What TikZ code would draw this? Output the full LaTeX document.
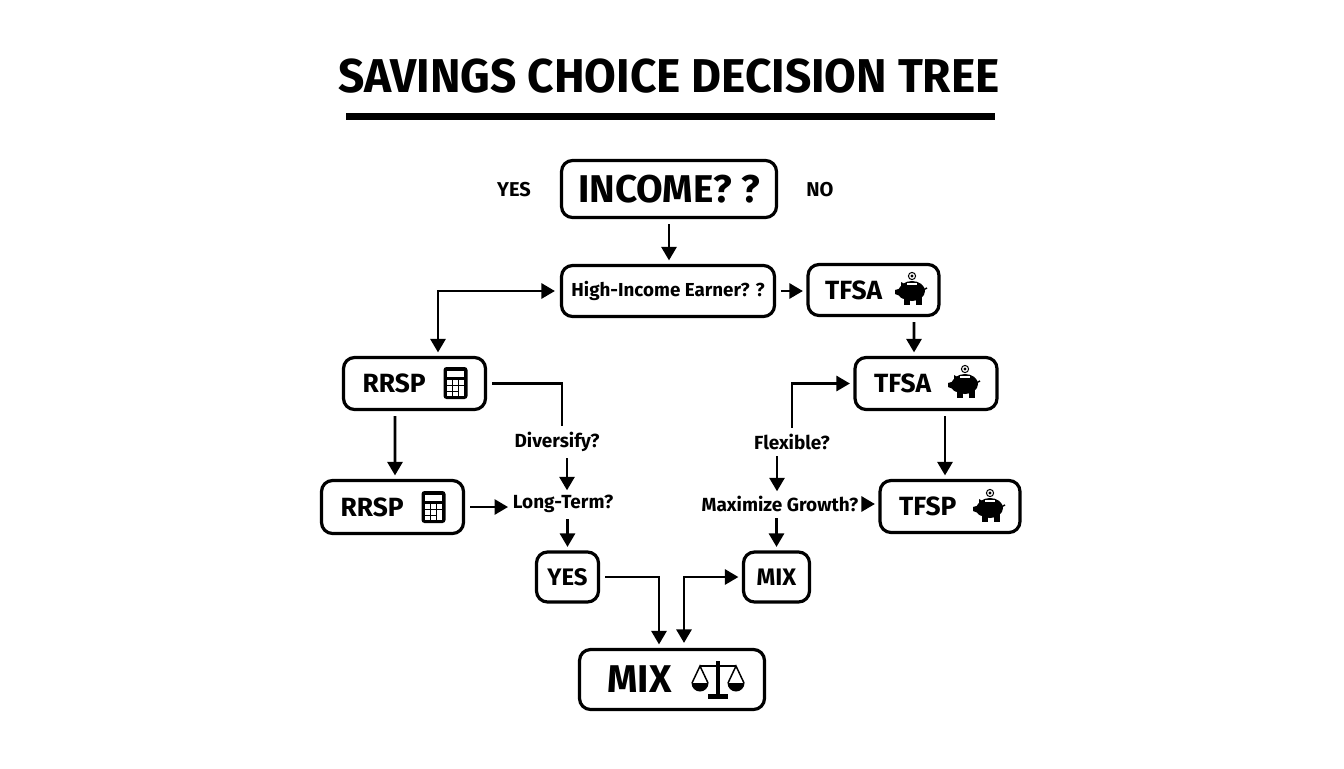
\documentclass[tikz,border=0pt]{standalone}
\usepackage{fontspec}
\setmainfont{Fira Sans}
\usetikzlibrary{arrows.meta,positioning}

\tikzset{
	box/.style={draw=black, fill=white, line width=0.064cm, rounded corners=0.22cm, inner sep=0pt, font=\bfseries\fontsize{15}{15}\selectfont, align=center},
	iconbox/.style={box, inner xsep=0.38cm, align=flush left},
	ask/.style={inner sep=0.02cm, font=\bfseries\fontsize{10.8}{12}\selectfont},
	arr/.style={->, >={Triangle[length=0.27cm,width=0.3cm]}, line width=0.056cm, shorten <=0.1cm, shorten >=0.07cm},
	arrb/.style={arr, <->},
	wire/.style={line width=0.056cm, shorten <=0.1cm, shorten >=0.1cm},
	pig/.pic={
		\fill (0,0) ellipse (13 and 10);
		\fill (-7,1) circle (7);
		\fill (-10,-3) -- (-17,-1) -- (-17,3) -- (-9,6) -- cycle;
		\fill (-11,-9) -- (-11,-2) -- (-4,-5) -- cycle;
		\fill (-8,4) rectangle (-2,14);
		\fill (4,4) rectangle (10,14);
		\draw[line width=0.03cm] (11,-1) -- (15,-3);
		\draw[white, line width=0.03cm] (-5,-7) -- (5,-7);
		\draw[line width=0.02cm] (0,-15) circle (3.6);
		\fill (0,-15) circle (1.6);
	},
	calc/.pic={
		\fill[rounded corners=0.06cm] (-12,-16) rectangle (12,16);
		\fill[white] (-8.5,-12.5) rectangle (8.5,-6);
		\foreach \i in {-8.5,-2.5} {
			\fill[white] (\i,-3) rectangle (\i+5,1.5);
			\fill[white] (\i,3) rectangle (\i+5,7.5);
			\fill[white] (\i,9) rectangle (\i+5,12.5);
		}
		\fill[white] (3.5,-3) rectangle (8.5,1.5);
		\fill[white] (3.5,3) rectangle (8.5,12.5);
	},
	scales/.pic={
		\draw[line width=0.07cm] (0,-19) -- (0,15);
		\draw[line width=0.05cm] (-18,-14) -- (18,-14);
		\draw[line width=0.1cm] (-10,16) -- (10,16);
		\foreach \i in {-18,18} {
			\draw[line width=0.03cm] (\i-8,3) -- (\i,-14) -- (\i+8,3);
			\fill (\i-8.5,3) arc (180:0:8.5) -- cycle;
		}
	}
}

\begin{document}
\begin{tikzpicture}[x=0.02cm, y=-0.02cm]
	\useasboundingbox (0,0) rectangle (1344,768);
	
	\node[font=\bfseries\fontsize{27}{27}\selectfont\addfontfeature{FakeStretch=0.97}] (title) at (669,76) {SAVINGS CHOICE DECISION TREE};
	\fill (346,113) rectangle (995,120);
	
	% top row
	\node[box, minimum width=4.3cm, minimum height=1.14cm, font=\bfseries\fontsize{22}{22}\selectfont] (income) at (669,189) {INCOME? ?};
	\node[ask, font=\bfseries\fontsize{11.4}{12}\selectfont] (yeslabel) at (514,190) {YES};
	\node[ask, font=\bfseries\fontsize{11.4}{12}\selectfont] (nolabel) at (820,190) {NO};
	\node[box, minimum width=4.26cm, minimum height=1.02cm, font=\bfseries\fontsize{10.7}{12}\selectfont] (high) at (668,291) {High-Income Earner? ?};
	\node[iconbox, minimum height=1.02cm, inner xsep=0.34cm, text width=1.94cm] (tfsaa) at (873.5,290) {TFSA};
	
	% left and right columns
	\node[iconbox, minimum height=1.04cm, text width=2.08cm] (rrspa) at (414.5,383.5) {RRSP};
	\node[iconbox, minimum height=1.04cm, text width=2.08cm] (tfsab) at (926,383.5) {TFSA};
	\node[iconbox, minimum height=1.06cm, text width=2.08cm] (rrspb) at (392.5,507) {RRSP};
	\node[iconbox, minimum height=1.04cm, text width=2.04cm] (tfsp) at (950,506.5) {TFSP};
	
	% questions
	\node[ask] (diversify) at (557,442) {Diversify?};
	\node[ask] (flexible) at (792,442) {Flexible?};
	\node[ask] (longterm) at (563,504) {Long-Term?};
	\node[ask] (growth) at (780,504) {Maximize Growth?};
	
	% bottom
	\node[box, minimum width=1.24cm, minimum height=1.0cm, font=\bfseries\fontsize{13.6}{14}\selectfont] (yesbox) at (567.5,577) {YES};
	\node[box, minimum width=1.32cm, minimum height=1.0cm, font=\bfseries\fontsize{13.6}{14}\selectfont] (mixs) at (776.5,577) {MIX};
	\node[box, minimum width=3.7cm, minimum height=1.2cm, inner xsep=0.56cm, text width=2.58cm, align=flush left, font=\bfseries\fontsize{22}{22}\selectfont] (mixbig) at (672,679.5) {MIX};
	
	% icons
	\pic at (912,291) {pig};
	\pic at (965,384) {pig};
	\pic at (990,508) {pig};
	\pic at (455.5,383) {calc};
	\pic at (433.5,507) {calc};
	\pic at (718,680) {scales};
	
	% connectors
	\draw[arr] (income.south) -- (income.south |- high.north);
	\draw[arr] (high.east) -- (high.east -| tfsaa.west);
	\draw[arrb] (high.west) -| ([shift={(23.5,0)}]rrspa.north);
	\draw[arr] ([shift={(40.5,0)}]tfsaa.south) -- ([shift={(-12,0)}]tfsab.north);
	\draw[arr] ([shift={(19,0)}]tfsab.south) -- ([shift={(-5,0)}]tfsp.north);
	\draw[arr] ([shift={(-19.5,0)}]rrspa.south) -- ([shift={(2.5,0)}]rrspb.north);
	\draw[wire] (rrspa.east) -| ([shift={(5,0)}]diversify.north);
	\draw[arr] ([shift={(10,0)}]diversify.south) -- ([shift={(4,0)}]longterm.north);
	\draw[arr] (rrspb.east) -- (rrspb.east -| longterm.west);
	\draw[arr] ([shift={(4.5,0)}]longterm.south) -- (yesbox.north);
	\draw[arr] (flexible.north) |- (tfsab.west);
	\draw[arr] ([shift={(-15,0)}]flexible.south) -- ([shift={(-3,0)}]growth.north);
	\draw[arr] (growth.east) -- (growth.east -| tfsp.west);
	\draw[arr] ([shift={(-3.5,0)}]growth.south) -- (mixs.north);
	\draw[arr] (yesbox.east) -| ([shift={(-13,0)}]mixbig.north);
	\draw[arrb] ([shift={(12,0)}]mixbig.north) |- (mixs.west);
\end{tikzpicture}
\end{document}
